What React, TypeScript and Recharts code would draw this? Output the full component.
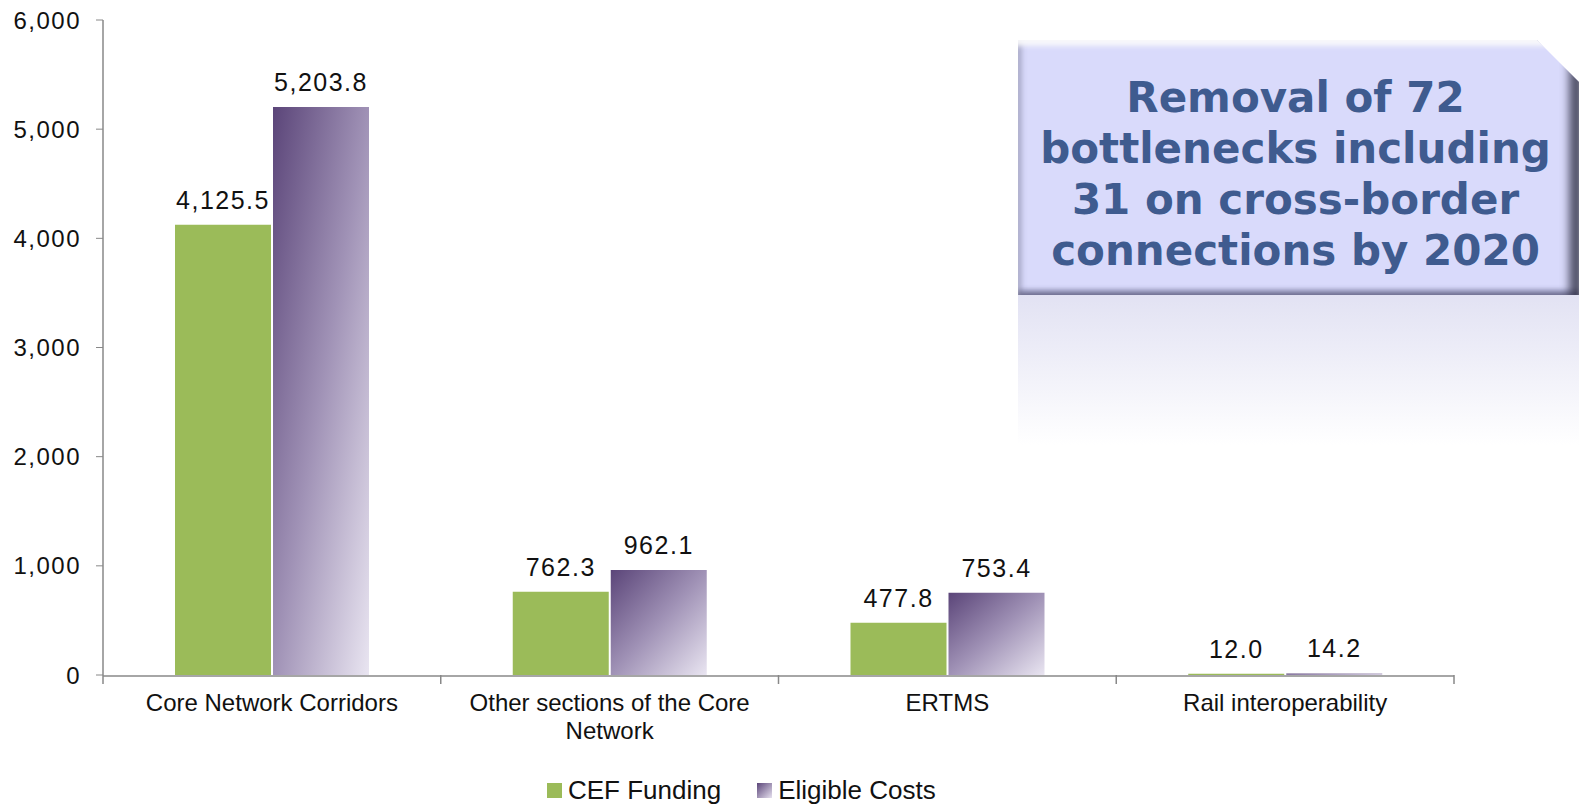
import { BarChart, Bar, XAxis, YAxis, Legend, LabelList } from "recharts";

const categories = [
  "Core Network Corridors",
  "Other sections of the Core Network",
  "ERTMS",
  "Rail interoperability",
];
const categoryLines = [
  ["Core Network Corridors"],
  ["Other sections of the Core", "Network"],
  ["ERTMS"],
  ["Rail interoperability"],
];
const cefFunding = [4125.5, 762.3, 477.8, 12.0];
const eligibleCosts = [5203.8, 962.1, 753.4, 14.2];
const yTicks = [0, 1000, 2000, 3000, 4000, 5000, 6000];
const boundaryTicks = [0, 1, 2, 3, 4];
const calloutLines = [
  "Removal of 72",
  "bottlenecks including",
  "31 on cross-border",
  "connections by 2020",
];

const data = categories.map((name, i) => ({
  name,
  slot: i + 0.5,
  cef: cefFunding[i],
  eligible: eligibleCosts[i],
}));

const FONT = "'Liberation Sans', Arial, sans-serif";
const GREEN = "#9bbb59";

const fmtThousands = (v: number) => v.toLocaleString("en-US");
const fmtValue = (v: any) =>
  Number(v).toLocaleString("en-US", { minimumFractionDigits: 1, maximumFractionDigits: 1 });

const CategoryTick = ({ x, y, payload }: any) => {
  const lines = categoryLines[payload.index] || [payload.value];
  return (
    <text x={x} y={y + 27} textAnchor="middle" fontFamily={FONT} fontSize={24} fill="#111">
      {lines.map((l, i) => (
        <tspan key={i} x={x} dy={i === 0 ? 0 : 28}>
          {l}
        </tspan>
      ))}
    </text>
  );
};

const LegendContent = () => (
  <div
    style={{
      display: "flex",
      alignItems: "center",
      paddingLeft: 547,
      paddingTop: 19,
      height: 28,
      fontFamily: FONT,
      fontSize: 26,
      color: "#111",
    }}
  >
    <span style={{ width: 15, height: 15, background: GREEN, marginRight: 6 }} />
    <span style={{ marginRight: 36 }}>CEF Funding</span>
    <span
      style={{
        width: 15,
        height: 15,
        background: "linear-gradient(135deg, #5b4579, #e6e1ef)",
        marginRight: 6,
      }}
    />
    <span>Eligible Costs</span>
  </div>
);

export default function App() {
  return (
    <div style={{ position: "absolute", left: 0, top: 0, width: 1579, height: 804, background: "#fff" }}>
      <BarChart
        width={1579}
        height={804}
        data={data}
        margin={{ top: 20, right: 125, left: 8, bottom: 0 }}
        barSize={96}
        barGap={2}
      >
        <defs>
          <linearGradient id="purpleGrad" x1="0" y1="0" x2="1" y2="1">
            <stop offset="0%" stopColor="#5b4579" />
            <stop offset="50%" stopColor="#a092b6" />
            <stop offset="100%" stopColor="#e9e5f1" />
          </linearGradient>
        </defs>
        {/* boundary tick marks between categories */}
        <XAxis
          dataKey="slot"
          type="number"
          domain={[0, 4]}
          ticks={boundaryTicks}
          allowDataOverflow
          height={1}
          axisLine={false}
          tick={() => <g />}
          tickSize={9}
          tickLine={{ stroke: "#888", strokeWidth: 1.5 }}
        />
        <XAxis
          xAxisId="cat"
          dataKey="name"
          height={81}
          axisLine={{ stroke: "#888", strokeWidth: 1.5 }}
          tickLine={false}
          tick={<CategoryTick />}
          interval={0}
        />
        <YAxis
          width={95}
          domain={[0, 6000]}
          ticks={yTicks}
          tickFormatter={fmtThousands}
          axisLine={{ stroke: "#888", strokeWidth: 1.5 }}
          tickLine={{ stroke: "#888" }}
          tickSize={7}
          tickMargin={15}
          tick={{ fontFamily: FONT, fontSize: 24, fill: "#111", letterSpacing: 1.5 }}
        />
        <Legend verticalAlign="bottom" content={<LegendContent />} wrapperStyle={{ left: 0, width: 1579 }} />
        <Bar xAxisId="cat" dataKey="cef" name="CEF Funding" fill={GREEN} isAnimationActive={false}>
          <LabelList
            dataKey="cef"
            position="top"
            offset={16}
            formatter={fmtValue}
            style={{ fontFamily: FONT, fontSize: 25, fill: "#111", letterSpacing: 1.5 }}
          />
        </Bar>
        <Bar xAxisId="cat" dataKey="eligible" name="Eligible Costs" fill="url(#purpleGrad)" isAnimationActive={false}>
          <LabelList
            dataKey="eligible"
            position="top"
            offset={16}
            formatter={fmtValue}
            style={{ fontFamily: FONT, fontSize: 25, fill: "#111", letterSpacing: 1.5 }}
          />
        </Bar>
      </BarChart>

      <div
        style={{
          position: "absolute",
          left: 1018,
          top: 295,
          width: 561,
          height: 150,
          background: "linear-gradient(to bottom, #e2e2f3, rgba(255,255,255,0))",
        }}
      />
      <div
        style={{
          position: "absolute",
          left: 1018,
          top: 40,
          width: 561,
          height: 255,
          background: "#d9dafb",
          clipPath: "polygon(0 0, 519px 0, 561px 42px, 561px 100%, 0 100%)",
          boxShadow:
            "inset 0 8px 5px -2px rgba(255,255,255,0.9), inset 7px 0 5px -3px rgba(120,120,150,0.45), inset -12px 0 8px -2px rgba(40,40,60,0.75), inset 0 -7px 5px -2px rgba(90,90,130,0.6)",
          display: "flex",
          flexDirection: "column",
          alignItems: "center",
          justifyContent: "center",
          paddingTop: 12,
          boxSizing: "border-box",
          fontFamily: "'DejaVu Sans', Verdana, sans-serif",
          fontWeight: "bold",
          fontSize: 42,
          lineHeight: "51px",
          color: "#3f5b8f",
        }}
      >
        {calloutLines.map((l) => (
          <div key={l} style={{ whiteSpace: "nowrap", marginRight: 6 }}>
            {l}
          </div>
        ))}
      </div>
    </div>
  );
}
